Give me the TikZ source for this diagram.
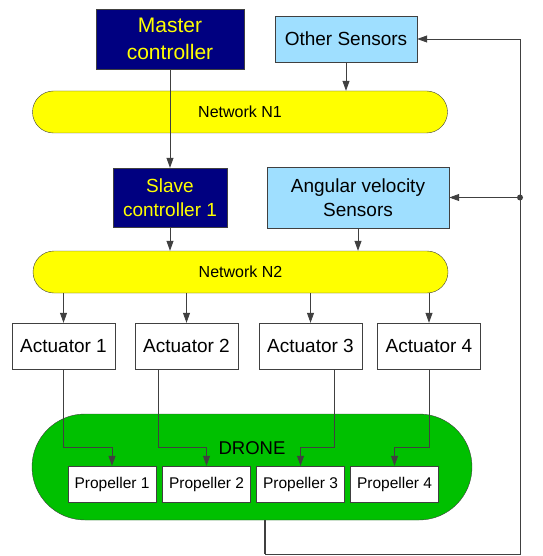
\documentclass[tikz,border=0pt]{standalone}
\usepackage{fontspec}
\setmainfont{Liberation Sans}
\usetikzlibrary{arrows.meta, positioning}
\definecolor{ctrlnavy}{RGB}{0,0,128}
\definecolor{sensblue}{RGB}{159,223,255}
\definecolor{netyellow}{RGB}{255,255,0}
\definecolor{dronegreen}{RGB}{0,192,0}
\definecolor{wiregray}{RGB}{64,64,64}

\begin{document}
\begin{tikzpicture}[x=1pt, y=-1pt,
    box/.style={draw=wiregray, inner sep=0pt, align=center},
    ctrl/.style={box, fill=ctrlnavy, text=netyellow},
    sensor/.style={box, fill=sensblue},
    network/.style={box, fill=netyellow, minimum width=415pt, minimum height=42pt, rounded corners=21pt, font=\fontsize{16}{19}\selectfont},
    actuator/.style={box, fill=white, minimum width=103pt, minimum height=46pt, font=\fontsize{19}{23}\selectfont},
    propeller/.style={box, fill=white, minimum width=88pt, minimum height=36pt, font=\fontsize{15.5}{18}\selectfont},
    link/.style={draw=wiregray, line width=0.8pt},
    arr/.style={link, -{Triangle[length=10pt, width=7pt]}}]
    \useasboundingbox (0,0) rectangle (542,556);

    % Controllers and sensors
    \node[ctrl, minimum width=148pt, minimum height=60pt, font=\fontsize{21}{27}\selectfont] (master) at (170,39) {Master\\controller};
    \node[sensor, minimum width=142pt, minimum height=46pt, font=\fontsize{19}{23}\selectfont] (other) at (346,39) {Other Sensors};
    \node[network] (n1) at (240,112) {Network N1};
    \node[ctrl, minimum width=114pt, minimum height=59pt, font=\fontsize{19}{24}\selectfont] (slave) at (170,197.5) {Slave\\controller 1};
    \node[sensor, minimum width=182pt, minimum height=61pt, font=\fontsize{19}{24}\selectfont] (angular) at (358,197.5) {Angular velocity\\Sensors};
    \node[network] (n2) at (240.5,272) {Network N2};

    % Actuators
    \node[actuator] (act1) at (63.5,346) {Actuator 1};
    \node[actuator] (act2) at (186.5,346) {Actuator 2};
    \node[actuator] (act3) at (310.5,346) {Actuator 3};
    \node[actuator] (act4) at (429,346) {Actuator 4};

    % Drone with propellers
    \node[box, fill=dronegreen, minimum width=440pt, minimum height=106pt, rounded corners=53pt] (drone) at (252,467) {};
    \node[font=\fontsize{18.5}{22}\selectfont] (dronelabel) at (252,448) {DRONE};
    \node[propeller] (prop1) at (112,484) {Propeller 1};
    \node[propeller] (prop2) at (206.5,484) {Propeller 2};
    \node[propeller] (prop3) at (300.5,484) {Propeller 3};
    \node[propeller] (prop4) at (394.5,484) {Propeller 4};

    % Network links
    \draw[arr] (master.south) -- (slave.north);
    \draw[arr] (other.south) -- (other.south |- n1.north);
    \draw[arr] (slave.south) -- (slave.south |- n2.north);
    \draw[arr] (angular.south) -- (angular.south |- n2.north);
    \foreach \i in {1,...,4}
        \draw[arr] (act\i.north |- n2.south) -- (act\i.north);

    % Actuators to propellers
    \foreach \i/\dx in {1/0, 2/-28, 3/24, 4/0}
        \draw[arr] ([xshift=\dx pt]act\i.south) |- ([yshift=18pt]prop\i.north) -- (prop\i.north);

    % Feedback loop
    \coordinate (fbbottom) at (265,554);
    \coordinate (fbcorner) at (520,554);
    \coordinate (fbtop) at (other.east -| fbcorner);
    \coordinate (fbjoin) at (angular.east -| fbcorner);
    \draw[wiregray, line width=2.5pt] ([xshift=13pt]drone.south) -- (fbbottom);
    \draw[arr] (fbbottom) -- (fbcorner) -- (fbtop) -- (other.east);
    \fill[wiregray] (fbjoin) circle (3pt);
    \draw[arr] (fbjoin) -- (angular.east);
\end{tikzpicture}
\end{document}
